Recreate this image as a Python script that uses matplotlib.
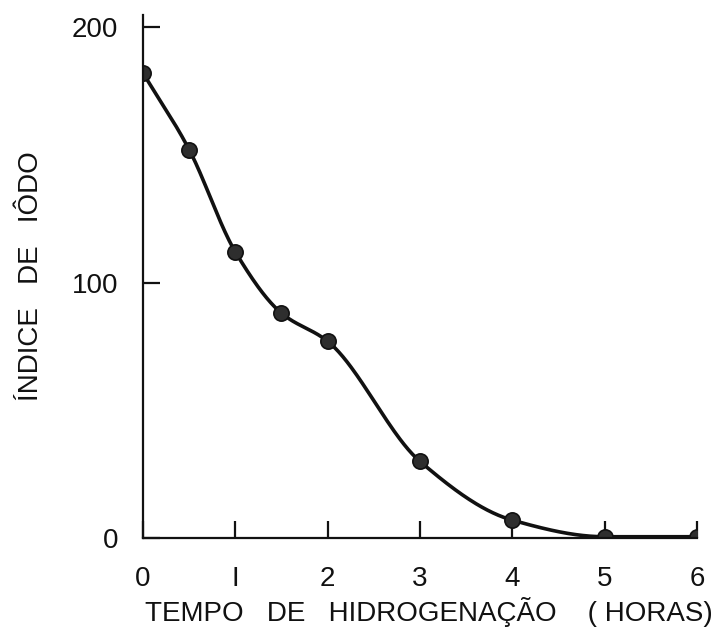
import numpy as np
import matplotlib.pyplot as plt

# Dados
horas = [0, 0.5, 1, 1.5, 2, 3, 4, 5, 6]
indice_iodo = [182, 152, 112, 88, 77, 30, 7, 0.5, 0.5]
x_ticks = [0, 1, 2, 3, 4, 5, 6]
y_ticks = [0, 100, 200]


def pchip(x, y, xs):
    # interpolação monotônica (Fritsch-Carlson) para a curva suave
    x = np.asarray(x, float)
    y = np.asarray(y, float)
    h = np.diff(x)
    d = np.diff(y) / h
    m = np.zeros_like(y)
    for k in range(1, len(x) - 1):
        if d[k - 1] * d[k] > 0:
            w1 = 2 * h[k] + h[k - 1]
            w2 = h[k] + 2 * h[k - 1]
            m[k] = (w1 + w2) / (w1 / d[k - 1] + w2 / d[k])
    m[0] = d[0]
    m[-1] = d[-1]
    idx = np.clip(np.searchsorted(x, xs) - 1, 0, len(h) - 1)
    t = (xs - x[idx]) / h[idx]
    h00 = 2 * t**3 - 3 * t**2 + 1
    h10 = t**3 - 2 * t**2 + t
    h01 = -2 * t**3 + 3 * t**2
    h11 = t**3 - t**2
    return (h00 * y[idx] + h10 * h[idx] * m[idx]
            + h01 * y[idx + 1] + h11 * h[idx] * m[idx + 1])


def main():
    plt.rcParams['font.family'] = ['Liberation Sans', 'DejaVu Sans']
    fig = plt.figure(figsize=(7.14, 6.28), dpi=100)
    ax = fig.add_axes([0.2003, 0.1433, 0.7757, 0.8328])

    xs = np.linspace(horas[0], horas[-1], 400)
    ax.plot(xs, pchip(horas, indice_iodo, xs), color='#111111', lw=2.6)
    ax.plot(horas, indice_iodo, 'o', color='#2e2e2e', ms=11,
            markeredgecolor='#111111', markeredgewidth=1.2)

    ax.set_xlim(0, 6)
    ax.set_ylim(0, 204.7)
    ax.set_xticks(x_ticks)
    ax.set_xticklabels(['0', 'I', '2', '3', '4', '5', '6'])
    ax.set_yticks(y_ticks)
    ax.tick_params(direction='in', length=12, width=1.6, labelsize=20,
                   colors='#111111')
    ax.tick_params(axis='x', pad=20)
    ax.tick_params(axis='y', pad=18)

    for side in ['top', 'right']:
        ax.spines[side].set_visible(False)
    for side in ['left', 'bottom']:
        ax.spines[side].set_linewidth(1.6)
        ax.spines[side].set_color('#111111')

    ax.set_xlabel('TEMPO   DE   HIDROGENAÇÃO    ( HORAS)', fontsize=20,
                  color='#111111')
    ax.xaxis.set_label_coords(0.516, -0.112)
    ax.set_ylabel('ÍNDICE   DE   IÔDO', fontsize=20, color='#111111',
                  labelpad=20)

    plt.savefig('out.png', dpi=100)


if __name__ == "__main__":
    main()
